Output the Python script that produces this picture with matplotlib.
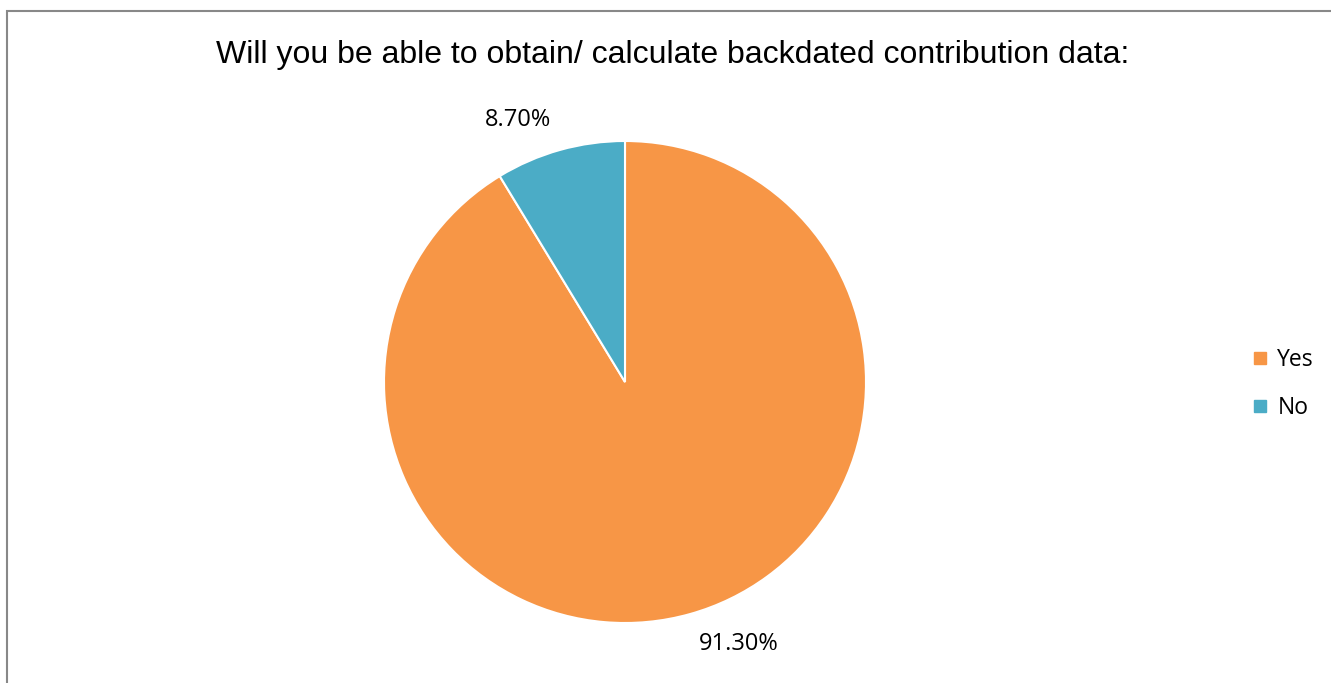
import numpy as np
import matplotlib.pyplot as plt
from matplotlib.patches import Rectangle
from matplotlib.lines import Line2D

labels = ['Yes', 'No']
values = [91.30, 8.70]
colors = ['#F79646', '#4BACC6']

W, H = 1331, 683
fig = plt.figure(figsize=(W / 100, H / 100), dpi=100)

# grey chart frame
fig.patches.append(Rectangle((7 / W, -0.05), 1.1, (H - 11) / H + 0.05,
                             transform=fig.transFigure, fill=False,
                             edgecolor='#888888', linewidth=1.5))

fig.text(673 / W, 1 - 55 / H, 'Will you be able to obtain/ calculate backdated contribution data:',
         ha='center', va='center', fontsize=23, family='Liberation Sans')

# pie axes: centre (625, 382), radius 241 px
cx, cy, r = 625, 382, 241
ax = fig.add_axes([(cx - r) / W, (H - cy - r) / H, 2 * r / W, 2 * r / H])
wedges, _ = ax.pie(values, colors=colors, startangle=90, counterclock=False,
                   radius=1, wedgeprops=dict(edgecolor='white', linewidth=1.5))
ax.set_xlim(-1, 1)
ax.set_ylim(-1, 1)
ax.set_aspect('equal')
ax.axis('off')

for w, v in zip(wedges, values):
    ang = np.deg2rad((w.theta1 + w.theta2) / 2)
    x, y = 1.13 * np.cos(ang), 1.13 * np.sin(ang)
    ax.text(x, y, f'{v:.2f}%', ha='right' if x < 0 else 'left', va='center',
            fontsize=17, family='Open Sans', clip_on=False)

handles = [Line2D([], [], marker='s', linestyle='', markersize=8,
                  markerfacecolor=c, markeredgecolor=c) for c in colors]
fig.legend(handles, labels, loc='center left', bbox_to_anchor=(1228 / W, 1 - 384 / H),
           frameon=False, prop=dict(family='Open Sans', size=16.5), labelspacing=1.05,
           handletextpad=0.25, handlelength=1.0)

fig.savefig('out.png', dpi=100)
